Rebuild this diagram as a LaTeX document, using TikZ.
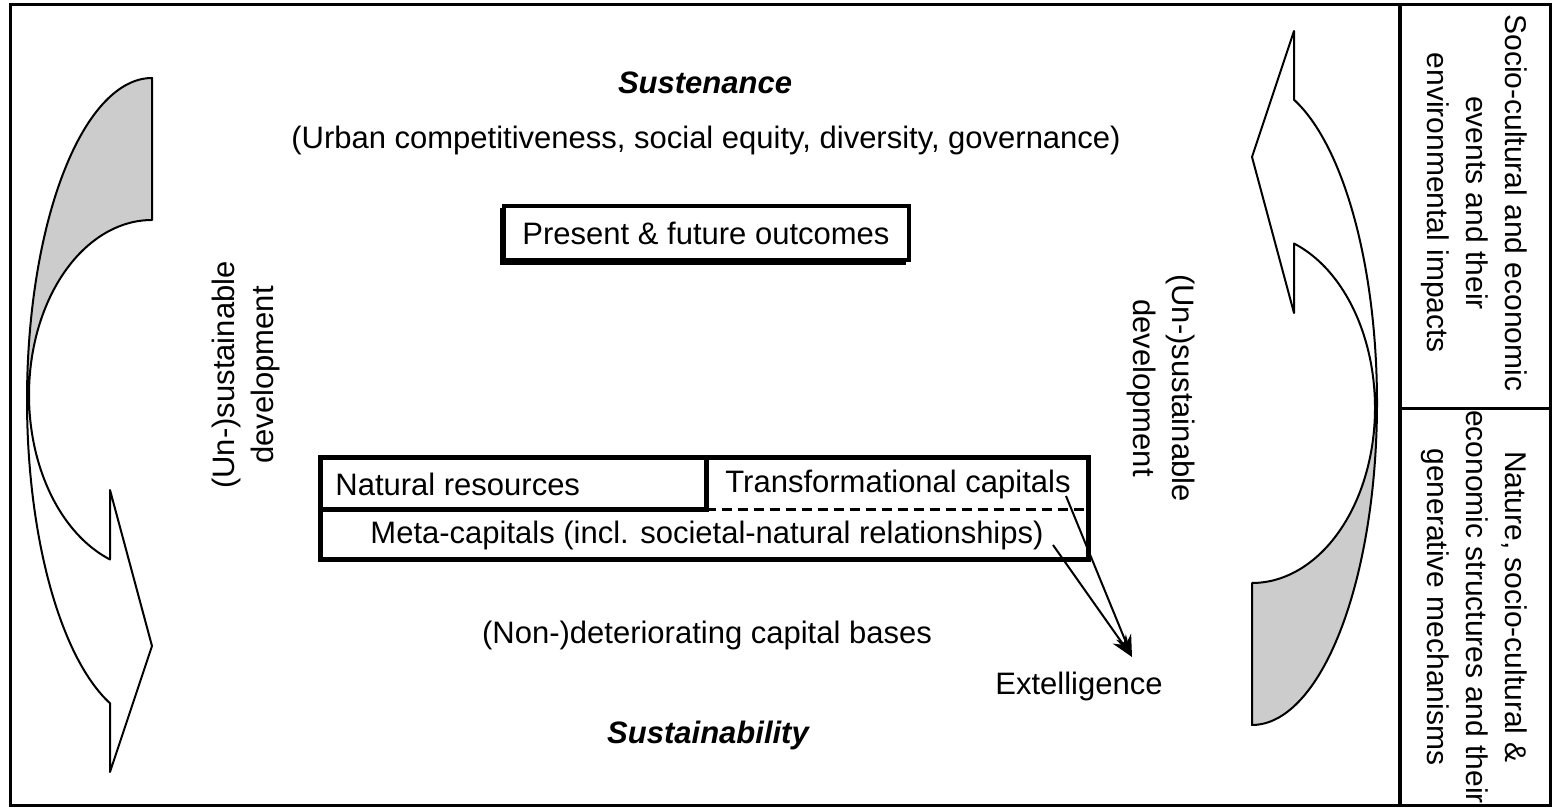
\documentclass[tikz,border=0pt]{standalone}
\usepackage{fontspec}
\setmainfont{Liberation Sans}
\usetikzlibrary{arrows.meta}
\definecolor{backgray}{RGB}{204,204,204}
\newcommand{\mycurvedarrow}{%
  \filldraw[arrowline, fill=white]
    plot[domain=180:250.37, samples=80] ({152+125*cos(\x)},{408+322*sin(\x)})
    -- (110,36) -- (152,162) -- (110,318) -- (110,249.5)
    -- plot[domain=250.03:180, samples=80] ({152+123*cos(\x)},{413+175*sin(\x)})
    -- cycle;
  \filldraw[arrowline, fill=backgray]
    plot[domain=90:180, samples=80] ({152+125*cos(\x)},{408+322*sin(\x)})
    -- plot[domain=180:90, samples=80] ({152+123*cos(\x)},{413+175*sin(\x)})
    -- cycle;
}
\begin{document}
\begin{tikzpicture}[x=0.5pt,y=0.5pt,
  base/.style={inner sep=0pt, font=\fontsize{15.5pt}{19.5pt}\selectfont},
  panel/.style={inner sep=0pt, font=\fontsize{15pt}{19.5pt}\selectfont},
  bi/.style={inner sep=0pt, font=\fontsize{15.5pt}{19.5pt}\selectfont\bfseries\itshape},
  arrowline/.style={line width=1pt, line join=round},
  boxline/.style={line width=2.5pt},
  dashline/.style={line width=1.5pt, dash pattern=on 5pt off 3pt},
  conn/.style={line width=1pt, -{Stealth[length=11pt,width=8pt]}},
  frameline/.style={line width=1.5pt}]
\useasboundingbox (0,0) rectangle (1552,808);
\fill[white] (0,0) rectangle (1552,808);

% outer frame and right panel
\draw[frameline] (10,2) rectangle (1550,803);
\draw[line width=2pt] (1400,2) -- (1400,803);
\draw[frameline] (1400,399) -- (1550,399);

% curved arrows
\mycurvedarrow
\begin{scope}[rotate around={180:(702,406.5)}]
  \mycurvedarrow
\end{scope}

% top texts
\node[bi] (sustenance) at (705,725) {Sustenance};
\node[base] (urban) at (706,668) {(Urban competitiveness, social equity, diversity, governance)};
\fill (500,543) rectangle (906,600);
\node[base, draw, fill=white, line width=2pt, minimum width=202.5pt, minimum height=27pt] (present) at (706,575) {Present \& future outcomes};

% rotated side texts
\node[base, rotate=90, align=center] (ldev) at (246,433) {(Un-)sustainable\\development};
\node[base, rotate=-90, align=center] (rdev) at (1161,420) {(Un-)sustainable\\development};

% capitals box
\node[draw, boxline, minimum width=384pt, minimum height=51pt, inner sep=0pt] (capbox) at (704,299) {};
\draw[boxline] (capbox.west |- 0,298) -- (706,298) -- (706,350);
\draw[dashline] (706,298) -- (capbox.east |- 0,298);
\node[base, anchor=west] (natural) at (335,324) {Natural resources};
\node[base] (transf) at (898,324) {Transformational capitals};
\node[base] (meta) at (707,273) {Meta-capitals (incl. societal-natural relationships)};

% bottom texts
\node[base] (nondet) at (707,173) {(Non-)deteriorating capital bases};
\node[base] (extel) at (1079,122) {Extelligence};
\node[bi] (sustainability) at (708,73) {Sustainability};

% extelligence connectors
\coordinate (la) at (1053,263);
\coordinate (lb) at (1066,312);
\coordinate (tip) at (1132,151);
\draw[conn] (la) -- (tip);
\draw[conn] (lb) -- (tip);

% right panel texts
\node[panel, rotate=-90, align=center] (toppanel) at (1474,605) {Socio-cultural and economic\\events and their\\environmental impacts};
\node[panel, rotate=-90, align=center] (botpanel) at (1474,201) {Nature, socio-cultural \&\\economic structures and their\\generative mechanisms};
\end{tikzpicture}
\end{document}
